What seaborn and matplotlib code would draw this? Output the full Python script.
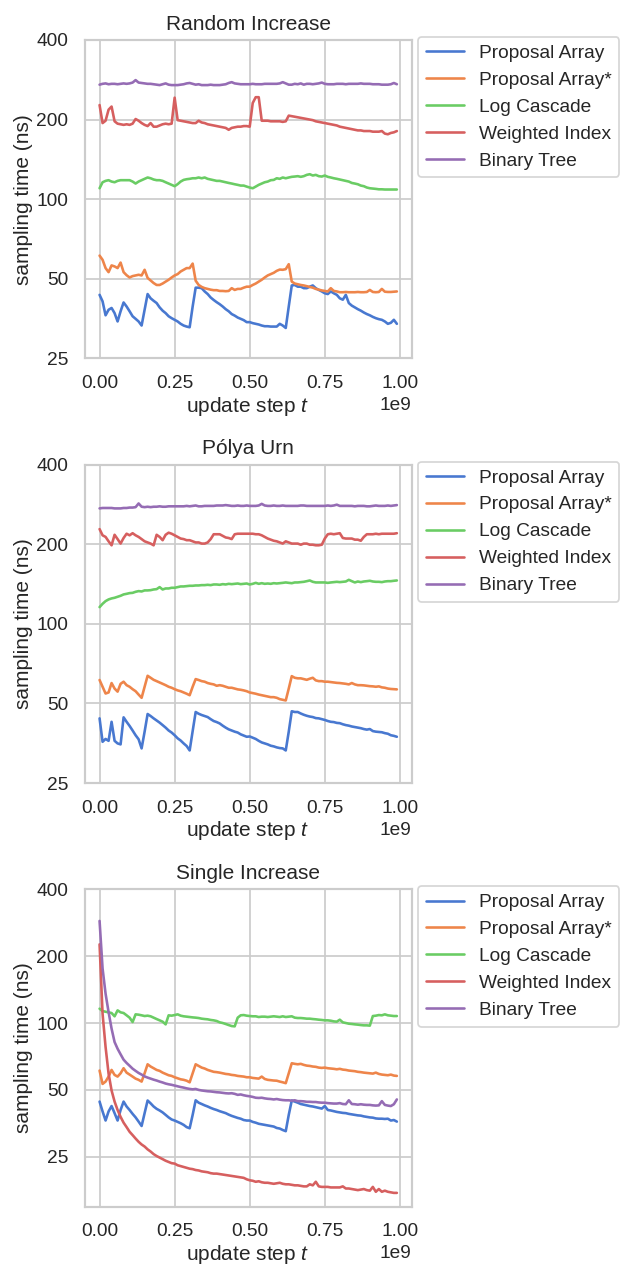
import numpy as np
import pandas as pd
import matplotlib
matplotlib.use("Agg")
import matplotlib.pyplot as plt
from matplotlib.ticker import FuncFormatter, NullLocator, FixedLocator
import seaborn as sns

# update steps at which sampling time was measured
STEPS = np.arange(100) * 10_000_000

METHODS = ["Proposal Array", "Proposal Array*", "Log Cascade", "Weighted Index", "Binary Tree"]
PANEL_TITLES = ["Random Increase", "Pólya Urn", "Single Increase"]
Y_TICKS = [25, 50, 100, 200, 400]
X_TICKS = [0, 0.25e9, 0.5e9, 0.75e9, 1.0e9]

# ---- Random Increase (ns) ----
RI_PROPOSAL = [
    43.5, 41.1, 36.4, 38.2, 38.8, 37.1, 34.5, 37.7, 40.7, 39.3,
    37.7, 36.1, 35.3, 34.5, 33.3, 38.2, 43.8, 42.2, 41.3, 40.5,
    39.0, 37.9, 37.1, 36.1, 35.5, 35.0, 34.5, 33.8, 33.3, 33.0,
    32.8, 39.3, 46.3, 46.3, 46.1, 44.8, 43.8, 42.5, 41.6, 40.8,
    40.1, 39.3, 38.4, 37.7, 36.8, 36.3, 35.7, 35.3, 34.9, 34.3,
    34.3, 34.0, 33.8, 33.6, 33.3, 33.1, 33.1, 33.0, 33.0, 33.0,
    33.8, 33.3, 32.6, 39.3, 47.2, 47.4, 46.7, 46.7, 46.1, 46.1,
    46.7, 47.2, 46.1, 45.4, 44.8, 44.1, 43.8, 44.8, 44.1, 43.5,
    42.2, 41.7, 43.5, 40.5, 39.6, 39.0, 38.4, 37.9, 37.3, 36.8,
    36.4, 35.9, 35.5, 35.2, 35.0, 34.5, 33.8, 34.1, 35.0, 33.8]
RI_PROPOSAL_STAR = [
    61.2, 59.0, 54.9, 53.0, 56.2, 55.7, 54.9, 57.6, 53.0, 51.6,
    50.6, 51.2, 51.5, 51.8, 51.5, 54.1, 50.4, 49.3, 48.2, 47.4,
    47.4, 48.0, 48.8, 49.6, 50.6, 51.5, 52.1, 53.3, 54.1, 54.9,
    54.9, 57.1, 49.2, 47.4, 46.6, 46.1, 45.8, 45.5, 45.3, 45.3,
    45.0, 45.0, 44.9, 45.0, 46.1, 45.4, 45.8, 45.8, 46.3, 46.7,
    46.7, 47.4, 48.0, 48.8, 49.6, 50.6, 51.5, 52.1, 52.7, 53.6,
    54.2, 54.1, 54.4, 56.8, 48.8, 48.0, 47.7, 47.4, 47.2, 46.9,
    46.6, 46.3, 45.8, 45.5, 45.2, 45.0, 44.8, 46.1, 45.0, 44.8,
    44.5, 44.5, 44.6, 44.5, 44.5, 44.5, 44.6, 44.5, 44.5, 44.6,
    45.4, 44.6, 44.5, 44.6, 45.8, 44.7, 44.6, 44.6, 44.7, 44.8]
RI_LOG_CASCADE = [
    110.0, 115.9, 117.3, 118.0, 116.6, 115.9, 117.3, 118.0, 118.0, 118.0,
    118.0, 116.6, 114.6, 116.6, 118.0, 119.4, 120.8, 120.0, 118.7, 118.0,
    118.0, 117.3, 115.9, 114.6, 113.3, 112.0, 114.0, 116.6, 118.3, 119.0,
    119.4, 120.0, 120.0, 120.8, 120.0, 120.8, 119.4, 118.7, 118.0, 117.3,
    117.3, 116.6, 115.9, 115.2, 114.6, 113.9, 113.3, 112.6, 112.6, 111.6,
    110.7, 110.0, 111.6, 113.3, 114.6, 115.9, 116.6, 118.0, 118.3, 120.0,
    119.4, 120.8, 120.0, 120.8, 121.5, 121.8, 122.2, 121.5, 122.2, 123.6,
    124.3, 122.9, 123.6, 122.2, 121.8, 122.9, 121.5, 120.8, 120.0, 119.4,
    118.7, 118.0, 117.3, 116.6, 115.2, 114.6, 113.9, 112.6, 112.0, 110.7,
    110.0, 109.7, 109.4, 109.0, 109.0, 108.8, 108.8, 108.8, 108.8, 108.8]
RI_WEIGHTED = [
    227, 194, 198, 218, 224, 197, 193, 192, 191, 192,
    191, 193, 201, 198, 194, 191, 189, 194, 188, 188,
    190, 192, 193, 192, 193, 242, 199, 198, 197, 196,
    195, 194, 194, 198, 195, 194, 192, 191, 190, 189,
    188, 187, 186, 183, 186, 187, 188, 188, 189, 189,
    188, 231, 243, 243, 198, 198, 198, 197, 197, 197,
    197, 196, 197, 207, 206, 205, 204, 203, 202, 201,
    200, 199, 197, 196, 195, 194, 193, 192, 191, 190,
    188, 187, 186, 185, 184, 183, 182, 182, 181, 181,
    181, 180, 180, 180, 181, 177, 176, 178, 179, 181]
RI_BINARY_TREE = [
    271, 273, 274, 272, 273, 273, 272, 273, 274, 273,
    274, 276, 282, 276, 275, 274, 273, 273, 272, 271,
    270, 272, 274, 271, 270, 270, 270, 271, 272, 274,
    275, 273, 271, 272, 270, 270, 270, 271, 270, 270,
    270, 271, 272, 275, 277, 274, 273, 272, 272, 272,
    272, 273, 272, 272, 272, 273, 273, 273, 273, 273,
    274, 277, 274, 271, 271, 273, 272, 274, 271, 273,
    273, 272, 273, 274, 276, 273, 272, 272, 272, 273,
    273, 273, 272, 273, 273, 273, 273, 274, 273, 273,
    273, 272, 272, 272, 271, 271, 271, 272, 275, 272]

# ---- Pólya Urn (ns) ----
PU_PROPOSAL = [
    43.9, 35.8, 36.7, 36.1, 42.6, 36.1, 35.3, 35.0, 44.3, 42.6,
    41.1, 39.5, 37.9, 36.6, 33.8, 39.1, 45.6, 44.8, 43.9, 43.1,
    42.3, 41.4, 40.5, 39.5, 38.8, 37.9, 36.9, 36.2, 35.3, 34.5,
    33.2, 39.3, 46.4, 45.7, 45.2, 44.8, 44.4, 43.6, 42.9, 42.5,
    42.0, 41.2, 40.5, 39.9, 39.5, 39.1, 38.8, 38.2, 37.8, 37.4,
    37.5, 37.1, 36.7, 36.1, 35.6, 35.3, 35.0, 34.6, 34.4, 34.1,
    33.9, 33.8, 33.2, 39.1, 46.7, 46.4, 46.4, 45.8, 45.3, 44.9,
    44.6, 44.4, 44.0, 43.9, 43.6, 43.3, 42.9, 42.6, 42.5, 42.2,
    42.1, 41.7, 41.4, 41.2, 40.9, 40.7, 40.5, 40.3, 40.0, 39.8,
    40.0, 39.3, 39.1, 39.0, 38.9, 38.6, 38.4, 37.9, 37.7, 37.4]
PU_PROPOSAL_STAR = [
    61.3, 57.8, 54.5, 55.0, 59.7, 56.9, 55.4, 59.3, 60.4, 58.6,
    57.8, 56.6, 55.6, 54.0, 52.5, 57.8, 63.6, 62.5, 61.4, 60.7,
    60.0, 59.3, 58.6, 57.8, 57.3, 56.6, 56.0, 55.6, 55.0, 54.4,
    53.7, 57.8, 61.8, 61.3, 60.7, 60.4, 59.7, 59.3, 59.0, 58.3,
    58.6, 58.3, 57.8, 57.3, 57.3, 56.9, 56.5, 56.3, 56.0, 55.6,
    55.0, 54.7, 54.4, 54.0, 53.7, 53.4, 53.1, 52.8, 52.8, 52.5,
    51.9, 51.6, 51.3, 56.9, 63.4, 62.5, 62.2, 62.2, 61.8, 61.4,
    62.0, 62.5, 61.1, 60.7, 60.7, 60.4, 60.4, 60.2, 60.0, 59.8,
    59.7, 59.5, 59.3, 59.0, 59.7, 59.0, 58.6, 58.6, 58.5, 58.3,
    58.1, 58.0, 57.8, 58.0, 57.5, 57.3, 56.9, 56.7, 56.6, 56.5]
PU_LOG_CASCADE = [
    115.6, 119.0, 121.8, 123.6, 124.7, 125.4, 126.5, 127.6, 129.1, 129.8,
    130.6, 130.9, 132.1, 132.9, 132.5, 133.7, 133.7, 134.0, 134.8, 135.2,
    137.6, 134.8, 136.0, 136.0, 136.8, 136.8, 137.6, 138.4, 138.4, 138.8,
    139.2, 139.2, 139.6, 139.6, 140.0, 140.0, 140.4, 140.0, 140.8, 140.8,
    140.4, 141.2, 140.8, 141.6, 141.2, 141.6, 142.0, 141.2, 141.6, 142.0,
    140.8, 141.6, 142.8, 141.6, 142.4, 141.6, 142.0, 141.6, 142.4, 142.0,
    142.4, 142.8, 143.3, 142.8, 142.4, 143.3, 143.3, 143.7, 144.1, 144.9,
    145.8, 144.1, 143.3, 143.3, 143.3, 143.3, 142.8, 143.3, 143.7, 144.1,
    143.7, 144.1, 144.5, 146.6, 144.9, 143.3, 144.5, 143.7, 144.5, 144.9,
    145.4, 144.5, 144.1, 144.1, 143.7, 144.5, 144.9, 144.9, 145.4, 145.8]
PU_WEIGHTED = [
    228, 216, 213, 205, 198, 217, 209, 201, 211, 219,
    216, 220, 216, 213, 209, 205, 203, 201, 198, 217,
    213, 207, 217, 221, 219, 216, 213, 210, 209, 207,
    207, 205, 203, 203, 201, 201, 203, 209, 218, 218,
    218, 215, 212, 211, 209, 218, 219, 219, 219, 219,
    219, 219, 218, 218, 216, 213, 210, 208, 206, 205,
    203, 201, 205, 203, 201, 201, 201, 199, 201, 201,
    199, 199, 198, 198, 199, 210, 218, 219, 218, 219,
    220, 211, 210, 210, 210, 208, 208, 206, 213, 218,
    218, 218, 219, 218, 219, 219, 219, 219, 219, 220]
PU_BINARY_TREE = [
    273, 274, 274, 274, 274, 273, 273, 273, 274, 274,
    275, 275, 276, 285, 277, 276, 277, 276, 277, 277,
    278, 277, 277, 278, 278, 278, 278, 278, 278, 279,
    278, 279, 280, 278, 278, 279, 279, 279, 279, 280,
    280, 280, 281, 280, 279, 279, 280, 279, 279, 280,
    279, 279, 279, 280, 284, 280, 279, 279, 280, 279,
    279, 280, 279, 279, 279, 279, 279, 280, 280, 279,
    279, 279, 279, 279, 279, 279, 280, 279, 280, 282,
    279, 279, 279, 279, 279, 278, 279, 279, 279, 278,
    278, 279, 280, 279, 279, 279, 280, 279, 280, 281]

# ---- Single Increase (ns) ----
SI_PROPOSAL = [
    44.3, 40.0, 36.4, 40.0, 42.3, 39.3, 36.4, 40.6, 44.3, 42.1,
    40.6, 39.0, 37.6, 36.0, 34.4, 39.3, 44.8, 43.5, 42.1, 41.1,
    40.4, 39.6, 38.6, 37.6, 36.8, 36.4, 35.9, 35.4, 34.8, 34.0,
    33.6, 38.6, 44.9, 43.8, 43.2, 42.6, 42.1, 41.5, 41.0, 40.6,
    40.1, 39.7, 39.3, 38.7, 38.2, 37.8, 37.4, 37.1, 36.6, 36.4,
    36.4, 35.9, 35.6, 35.2, 35.0, 34.8, 34.6, 34.4, 34.2, 33.7,
    33.5, 33.0, 32.6, 38.6, 44.8, 44.3, 43.8, 43.2, 42.9, 42.6,
    42.3, 42.1, 41.8, 41.5, 41.2, 42.3, 40.6, 40.4, 40.1, 39.8,
    39.6, 39.4, 39.3, 39.0, 38.8, 38.6, 38.4, 38.3, 38.0, 37.8,
    37.6, 37.5, 37.2, 37.1, 37.1, 37.0, 37.1, 36.4, 36.6, 36.0]
SI_PROPOSAL_STAR = [
    61.1, 53.2, 54.5, 57.4, 61.5, 58.4, 57.4, 59.4, 62.6, 59.8,
    58.6, 57.4, 56.2, 55.5, 54.5, 59.4, 65.2, 63.7, 62.6, 61.5,
    60.9, 59.8, 59.0, 58.2, 57.8, 57.0, 56.4, 55.8, 55.5, 55.0,
    54.1, 59.4, 65.2, 64.1, 63.0, 62.4, 61.5, 60.9, 60.3, 60.1,
    59.8, 59.4, 59.0, 58.8, 58.4, 58.2, 57.8, 57.6, 57.4, 57.0,
    57.0, 56.6, 56.4, 56.2, 57.4, 56.0, 55.5, 55.3, 55.1, 55.0,
    54.5, 54.1, 53.6, 59.4, 65.9, 65.5, 65.2, 65.5, 64.8, 64.3,
    64.1, 63.7, 63.5, 63.0, 62.8, 63.0, 62.6, 62.4, 62.2, 61.9,
    62.2, 61.7, 61.5, 61.1, 60.9, 60.7, 60.3, 60.1, 59.8, 59.6,
    59.4, 59.2, 59.8, 59.0, 58.6, 58.4, 58.2, 58.6, 58.0, 57.8]
SI_LOG_CASCADE = [
    116.0, 113.2, 112.4, 111.7, 110.9, 107.2, 114.0, 111.7, 110.9, 108.3,
    105.7, 101.0, 109.4, 109.0, 108.3, 107.5, 107.9, 107.2, 105.7, 104.2,
    102.8, 101.4, 98.6, 108.3, 107.9, 108.6, 109.4, 107.9, 107.2, 106.8,
    106.4, 106.0, 105.7, 105.3, 104.6, 104.2, 103.9, 103.2, 102.8, 102.1,
    100.7, 100.0, 99.0, 97.9, 96.9, 96.6, 105.7, 108.3, 108.6, 107.9,
    107.5, 107.2, 107.2, 106.4, 106.8, 106.8, 106.4, 106.8, 107.2, 106.8,
    106.4, 107.2, 106.4, 106.8, 107.2, 105.7, 105.3, 105.3, 105.0, 104.6,
    104.6, 104.2, 103.9, 103.5, 103.2, 102.8, 102.8, 102.4, 101.7, 101.4,
    103.5, 100.7, 100.0, 99.3, 99.0, 98.6, 98.3, 97.9, 97.6, 97.6,
    97.3, 107.5, 107.9, 108.6, 108.3, 109.4, 108.3, 107.9, 107.5, 107.5]
SI_WEIGHTED = [
    226, 110, 78.0, 59.2, 49.7, 44.3, 40.6, 37.8, 35.6, 34.0,
    32.4, 31.3, 30.2, 29.2, 28.4, 27.8, 27.0, 26.4, 25.7, 25.2,
    24.8, 24.4, 24.0, 23.7, 23.4, 23.3, 22.9, 22.7, 22.5, 22.3,
    22.1, 22.0, 21.8, 21.7, 21.5, 21.4, 21.3, 21.1, 21.0, 21.0,
    20.9, 20.8, 20.7, 20.6, 20.5, 20.4, 20.3, 20.2, 20.1, 19.8,
    19.6, 19.5, 19.3, 19.4, 19.2, 19.1, 19.1, 19.0, 18.9, 19.0,
    19.1, 18.9, 18.8, 18.8, 18.7, 18.6, 18.6, 18.5, 18.4, 18.4,
    18.8, 18.6, 19.3, 18.4, 18.3, 18.3, 18.3, 18.2, 18.2, 18.2,
    18.2, 18.4, 18.0, 18.0, 17.9, 17.8, 17.7, 17.8, 17.9, 17.7,
    17.6, 18.3, 17.4, 17.9, 17.4, 17.6, 17.4, 17.3, 17.2, 17.2]
SI_BINARY_TREE = [
    288, 176, 135.5, 112, 94.3, 82.1, 76.6, 72.3, 68.4, 66.1,
    64.2, 62.3, 60.9, 59.6, 58.6, 57.5, 56.8, 56.2, 55.6, 55.1,
    54.5, 54.0, 53.4, 53.0, 52.7, 52.3, 51.9, 51.5, 51.2, 50.8,
    50.5, 50.3, 50.5, 50.0, 49.7, 49.5, 49.3, 49.2, 49.0, 48.8,
    48.7, 48.5, 48.3, 48.2, 48.3, 48.0, 47.5, 47.7, 47.3, 47.0,
    46.8, 46.5, 46.1, 46.0, 46.1, 45.8, 45.6, 45.5, 45.3, 45.5,
    45.2, 45.0, 44.9, 44.9, 44.7, 44.9, 44.5, 44.5, 44.4, 44.2,
    44.2, 44.1, 44.1, 43.9, 43.8, 43.8, 43.6, 43.5, 43.4, 43.4,
    43.6, 43.2, 43.1, 44.9, 43.2, 43.1, 42.9, 43.1, 42.9, 42.8,
    42.8, 42.6, 42.5, 42.6, 44.5, 42.8, 42.5, 42.3, 43.1, 45.3]

PANELS = [
    [RI_PROPOSAL, RI_PROPOSAL_STAR, RI_LOG_CASCADE, RI_WEIGHTED, RI_BINARY_TREE],
    [PU_PROPOSAL, PU_PROPOSAL_STAR, PU_LOG_CASCADE, PU_WEIGHTED, PU_BINARY_TREE],
    [SI_PROPOSAL, SI_PROPOSAL_STAR, SI_LOG_CASCADE, SI_WEIGHTED, SI_BINARY_TREE],
]
Y_LIMITS = [(25, 400), (25, 400), (14.9, 400)]


def long_frame(series_list):
    parts = []
    for name, values in zip(METHODS, series_list):
        parts.append(pd.DataFrame({"step": STEPS, "time": values, "method": name}))
    return pd.concat(parts, ignore_index=True)


sns.set_theme(context="notebook", style="whitegrid", palette="muted")
plt.rcParams["font.family"] = ["Liberation Sans", "DejaVu Sans"]
plt.rcParams["mathtext.fontset"] = "custom"
plt.rcParams["mathtext.rm"] = "Liberation Sans"
plt.rcParams["mathtext.it"] = "Liberation Sans:italic"

DPI = 125
fig = plt.figure(figsize=(621 / DPI, 1264 / DPI), dpi=DPI)
axes_rects = [
    (0.1364, 0.7164, 0.5266, 0.2520),
    (0.1364, 0.3805, 0.5266, 0.2520),
    (0.1364, 0.0453, 0.5266, 0.2512),
]

for rect, title, series_list, ylim in zip(axes_rects, PANEL_TITLES, PANELS, Y_LIMITS):
    ax = fig.add_axes(rect)
    df = long_frame(series_list)
    sns.lineplot(data=df, x="step", y="time", hue="method", hue_order=METHODS,
                 palette="muted", errorbar=None, ax=ax)
    ax.set_yscale("log", base=2)
    ax.set_ylim(*ylim)
    ax.yaxis.set_major_locator(FixedLocator(Y_TICKS))
    ax.yaxis.set_minor_locator(NullLocator())
    ax.yaxis.set_major_formatter(FuncFormatter(lambda v, _: f"{v:g}"))
    ax.set_xticks(X_TICKS)
    ax.set_title(title)
    ax.set_xlabel("update step $t$", labelpad=1.7)
    ax.set_ylabel("sampling time (ns)", labelpad=1.7)
    sns.move_legend(ax, "upper left", bbox_to_anchor=(1.019, 1.0094),
                    borderaxespad=0, title=None, frameon=True)

fig.savefig("out.png", dpi=DPI)
